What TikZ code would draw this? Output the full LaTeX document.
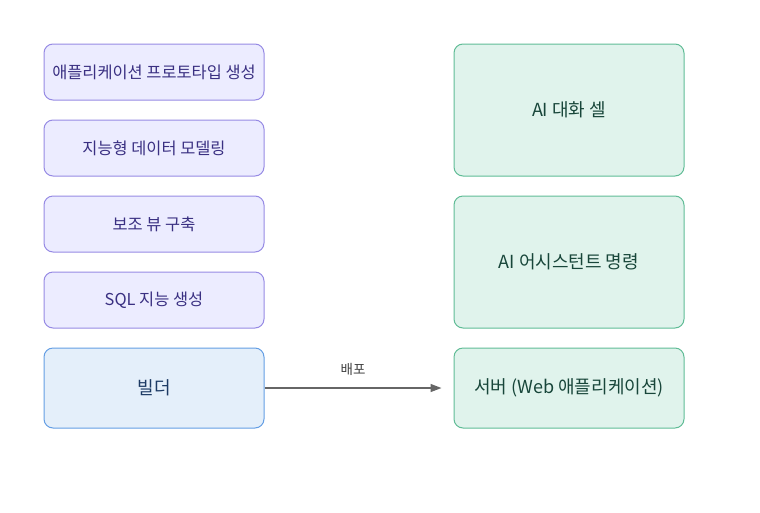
\documentclass[tikz,border=0pt]{standalone}
\usepackage{fontspec}
\setmainfont{Noto Sans CJK KR}
\usetikzlibrary{arrows.meta}
\usetikzlibrary{positioning}
\tikzset{purp/.style = {draw = mpurpb, fill = mpurp, text = mpurpt, line width = 1, rounded corners = 9, minimum width = 220, minimum height = 56, font = \fontsize{16.4}{18}\selectfont}}
\tikzset{blu/.style = {draw = mblueb, fill = mblue, text = mbluet, line width = 1, rounded corners = 9, minimum width = 220, minimum height = 80, font = \fontsize{18}{20}\selectfont}}
\tikzset{grn/.style = {draw = mgreenb, fill = mgreen, text = mgreent, line width = 1, rounded corners = 9, minimum width = 230, font = \fontsize{18}{20}\selectfont}}
\definecolor{mpurp}{RGB}{236, 236, 255}
\definecolor{mpurpb}{RGB}{150, 138, 228}
\definecolor{mpurpt}{RGB}{58, 48, 130}
\definecolor{mblue}{RGB}{228, 239, 250}
\definecolor{mblueb}{RGB}{100, 158, 228}
\definecolor{mbluet}{RGB}{28, 58, 100}
\definecolor{mgreen}{RGB}{224, 243, 236}
\definecolor{mgreenb}{RGB}{96, 188, 150}
\definecolor{mgreent}{RGB}{24, 70, 58}

\begin{document}
\begin{tikzpicture}[x=1pt, y=-1pt]
    \useasboundingbox (0, 0) rectangle (760, 512);

    \node [purp] (proto) at (154, 72) {애플리케이션 프로토타입 생성};
    \node [purp] (model) at (154, 148) {지능형 데이터 모델링};
    \node [purp] (view) at (154, 224) {보조 뷰 구축};
    \node [purp] (sql) at (154, 300) {SQL 지능 생성};
    \node [blu] (builder) at (154, 388) {빌더};

    \node [grn, minimum height = 132] (chat) at (569, 110) {AI 대화 셀};
    \node [grn, minimum height = 132] (assist) at (569, 262) {AI 어시스턴트 명령};
    \node [grn, minimum height = 80] (server) at (569, 388) {서버 (Web 애플리케이션)};

    \coordinate [left = 12pt of server.west] (deploy);
    \draw [-{Triangle[length=11pt, width=8pt]}, line width = 1.4, draw = black!60, fill = black!60]
        (builder) -- node [above = 8pt, text = black!75, font = \fontsize{13.5}{15}\selectfont] {배포} (deploy);
  \end{tikzpicture}
\end{document}
